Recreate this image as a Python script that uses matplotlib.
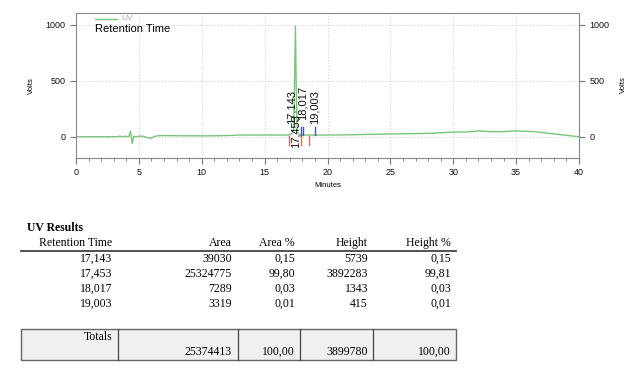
import matplotlib.pyplot as plt
from matplotlib.patches import Rectangle
from matplotlib.ticker import MultipleLocator

# chromatogram trace (minutes, volts)
times = [0, 3.3, 3.5, 3.6, 3.9, 4.2, 4.33, 4.4, 4.47, 4.6, 4.8, 5.0, 5.3, 5.6, 5.9, 6.1,
         6.4, 7.0, 9.0, 11.0, 12.5, 13.0, 16.9, 17.14, 17.3, 17.38, 17.45, 17.52, 17.6,
         17.8, 18.0, 19.0, 20.0, 22.0, 25.0, 28.0, 30.0, 31.0, 32.0, 33.0, 34.0, 34.8,
         36.5, 38.0, 40.0]
volts = [0, 0, 6, 0, 4, 0, 50, -10, -60, 4, 0, 5, 5, -5, -15, -5,
         8, 10, 8, 8, 12, 15, 15, 25, 60, 500, 985, 400, 40,
         15, 15, 15, 15, 18, 25, 30, 42, 42, 52, 45, 45, 52,
         45, 25, 0]

peak_times = [17.143, 17.453, 18.017, 19.003]
peak_labels = ["17,143", "17,453", "18,017", "19,003"]
start_marks = [16.96, 17.9, 18.55]
end_marks = [17.9, 18.08, 19.03]

col_names = ["Retention Time", "Area", "Area %", "Height", "Height %"]
ret_time = ["17,143", "17,453", "18,017", "19,003"]
area = ["39030", "25324775", "7289", "3319"]
area_pct = ["0,15", "99,80", "0,03", "0,01"]
height = ["5739", "3892283", "1343", "415"]
height_pct = ["0,15", "99,81", "0,03", "0,01"]
totals = ["25374413", "100,00", "3899780", "100,00"]

W, H = 641, 377
fig = plt.figure(figsize=(W / 100, H / 100), dpi=100)


def fx(px):
    return px / W


def fy(py):
    return 1 - py / H


ax = fig.add_axes([fx(76), fy(158), fx(579) - fx(76), fy(13) - fy(158)])
green = "#7cc47c"
ax.plot(times, volts, color=green, lw=1.0)
for t in start_marks:
    ax.plot([t, t], [10, -70], color="#ff5a5a", lw=1.0)
for t in end_marks:
    ax.plot([t, t], [15, 90], color="#4a4aff", lw=1.0)

label_bottoms = [110, -100, 150, 110]
for t, lab, yb in zip(peak_times, peak_labels, label_bottoms):
    ax.text(t, yb, lab, rotation=90, ha="center", va="bottom", fontsize=8,
            family="Liberation Sans", color="#111111")

ax.set_xlim(0, 40)
ax.set_ylim(-190, 1105)
ax.xaxis.set_major_locator(MultipleLocator(5))
ax.xaxis.set_minor_locator(MultipleLocator(1))
ax.set_yticks([0, 500, 1000])
ax.grid(True, which="major", ls=":", color="#d4d4d4", lw=0.8)
ax.tick_params(axis="both", which="both", direction="out", colors="#777777",
               labelcolor="#111111", labelsize=6.5)
ax.tick_params(axis="y", right=True, labelright=True, length=4)
ax.tick_params(axis="x", which="major", length=4)
ax.tick_params(axis="x", which="minor", length=2)
for lab in ax.get_xticklabels() + ax.get_yticklabels():
    lab.set_family("Liberation Sans")
for s in ax.spines.values():
    s.set_color("#888888")
    s.set_linewidth(0.8)
ax.set_xlabel("Minutes", fontsize=5.5, family="Liberation Sans", labelpad=3)
ax.set_ylabel("Volts", fontsize=5.5, family="Liberation Sans", labelpad=8)
fig.text(fx(623), fy(85), "Volts", rotation=90, fontsize=5.5,
         family="Liberation Sans", ha="center", va="center")

# legend-like header
fig.add_artist(plt.Line2D([fx(95), fx(117)], [fy(18.5), fy(18.5)], color=green, lw=1))
fig.text(fx(121), fy(18.5), "UV", fontsize=6, color="#aaaaaa",
         family="Liberation Sans", va="center")
fig.text(fx(95), fy(29), "Retention Time", fontsize=8, family="Liberation Sans",
         va="center")

# results table
serif = "Liberation Serif"
fig.text(fx(27), fy(228), "UV Results", fontsize=8.5, weight="bold",
         family=serif, va="center")
col_right = [112, 232, 295, 368, 451]
for xr, name in zip(col_right, col_names):
    fig.text(fx(xr), fy(243), name, fontsize=8.5, family=serif,
             ha="right", va="center")
fig.add_artist(plt.Line2D([fx(21), fx(456)], [fy(251), fy(251)],
                          color="#444444", lw=1.3))
rows = list(zip(ret_time, area, area_pct, height, height_pct))
for i, row in enumerate(rows):
    yy = 259 + i * 15
    for xr, val in zip(col_right, row):
        fig.text(fx(xr), fy(yy), val, fontsize=8.5, family=serif,
                 ha="right", va="center")

# totals box
fig.add_artist(Rectangle((fx(21), fy(360)), fx(456) - fx(21), fy(329) - fy(360),
                         transform=fig.transFigure, facecolor="#f0f0f0",
                         edgecolor="#666666", lw=1))
for xd in [118, 238, 300, 373]:
    fig.add_artist(plt.Line2D([fx(xd), fx(xd)], [fy(329), fy(360)],
                              color="#444444", lw=0.9))
fig.text(fx(112), fy(337), "Totals", fontsize=8.5, family=serif,
         ha="right", va="center")
for xr, val in zip(col_right[1:], totals):
    fig.text(fx(xr), fy(352), val, fontsize=8.5, family=serif,
             ha="right", va="center")

fig.savefig("out.png", dpi=100)
